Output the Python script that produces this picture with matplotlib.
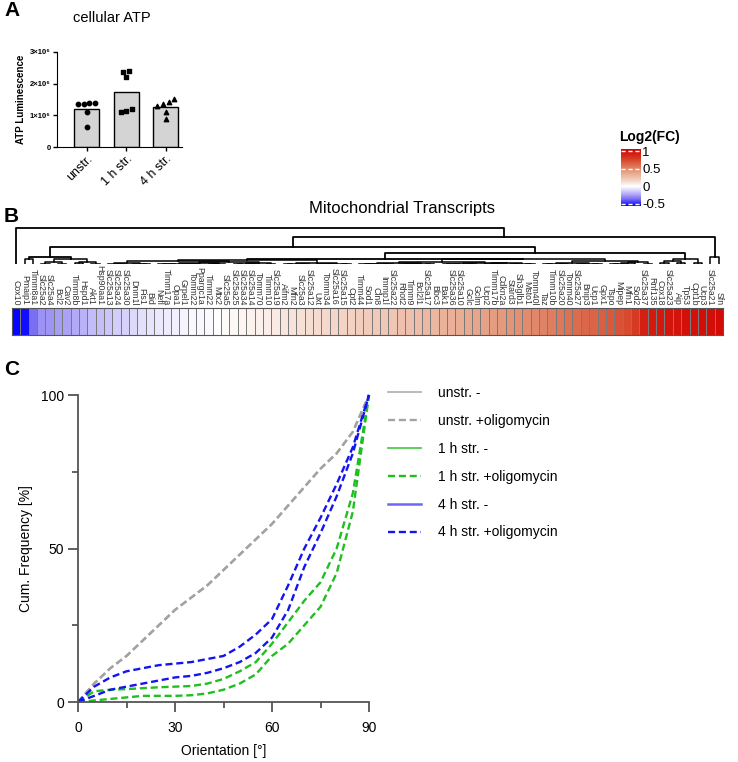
import numpy as np
import matplotlib
matplotlib.use("Agg")
import matplotlib.pyplot as plt
from matplotlib.colors import LinearSegmentedColormap, Normalize
from matplotlib.colorbar import ColorbarBase
from matplotlib.lines import Line2D

plt.rcParams['font.family'] = ['Liberation Sans', 'DejaVu Sans']

W, H = 738, 762

# --- A: cellular ATP ---
atp_groups = ['unstr.', '1 h str.', '4 h str.']
atp_unstr = [1.38e6, 1.36e6, 1.39e6, 1.37e6, 1.12e6, 0.64e6]
atp_1h = [2.40e6, 2.38e6, 2.22e6, 1.20e6, 1.12e6, 1.13e6]
atp_4h = [1.43e6, 1.37e6, 1.52e6, 1.30e6, 1.12e6, 0.87e6]
atp_ticks = [0, 1e6, 2e6, 3e6]
atp_ticklabels = ['0', '1×10⁶', '2×10⁶', '3×10⁶']

# --- B: mitochondrial transcripts (log2 fold change) ---
genes = ['Cox10', 'Pmaip1', 'Timm8a1', 'Slc25a2', 'Slc25a4', 'Bcl2', 'Cav2', 'Timm8b',
         'Hspd1', 'Akt1', 'Hsp90aa1', 'Slc25a13', 'Slc25a24', 'Slc25a30', 'Dnm1l', 'Fis1',
         'Bid', 'Nefl', 'Timm17a', 'Opa1', 'Grpel1', 'Tomm22', 'Ppargc1a', 'Timm22', 'Mtx2',
         'Slc25a5', 'Slc25a25', 'Slc25a34', 'Slc25a14', 'Tomm70', 'Timm10', 'Slc25a19',
         'Aifm2', 'Mfn2', 'Slc25a3', 'Slc25a12', 'Uxt', 'Tomm34', 'Slc25a16', 'Slc25a15',
         'Cpt2', 'Timm44', 'Sod1', 'Cln8', 'Immp1l', 'Slc25a22', 'Rhot2', 'Timm9', 'Bcl2l1',
         'Slc25a17', 'Bbc3', 'Bak1', 'Slc25a36', 'Slc25a10', 'Gclc', 'Gclm', 'Ucp2',
         'Timm17b', 'Cdkn2a', 'Stard3', 'Sh3glb1', 'Msto1', 'Tomm40l', 'Taz', 'Timm10b',
         'Slc25a20', 'Tomm40', 'Slc25a27', 'Bnip3', 'Ucp1', 'Gpx1', 'Tspo', 'Mipep', 'Mfn1',
         'Sod2', 'Slc25a37', 'Rnf135', 'Cox18', 'Slc25a23', 'Aip', 'Tp53', 'Cpt1b', 'Ucp3',
         'Slc25a21', 'Sfn']
log2fc = [-0.55, -0.53, -0.36, -0.28, -0.27, -0.25, -0.24, -0.22, -0.20, -0.18, -0.17,
          -0.15, -0.13, -0.12, -0.10, -0.08, -0.07, -0.06, -0.05, -0.04, -0.03, -0.02,
          -0.02, -0.01, 0.00, 0.01, 0.03, 0.04, 0.05, 0.06, 0.07, 0.08, 0.10, 0.11, 0.12,
          0.13, 0.14, 0.15, 0.16, 0.17, 0.18, 0.19, 0.20, 0.21, 0.22, 0.23, 0.25, 0.26,
          0.27, 0.29, 0.30, 0.32, 0.33, 0.35, 0.37, 0.38, 0.40, 0.42, 0.43, 0.45, 0.47,
          0.49, 0.50, 0.52, 0.54, 0.56, 0.58, 0.60, 0.62, 0.64, 0.66, 0.68, 0.71, 0.74,
          0.80, 0.92, 0.94, 0.95, 0.96, 0.97, 0.98, 0.99, 1.00, 1.00, 1.01]
fc_ticks = [-0.5, 0, 0.5, 1]
fc_ticklabels = ['-0.5', '0', '0.5', '1']

# upper dendrogram: ('n', height, left, right) or ('g', first, last, height)
dendro = ('n', 1.0,
          ('g', 0, 0, 0.0),
          ('n', 0.75,
           ('n', 0.47,
            ('n', 0.19, ('g', 1, 2, 0.13), ('g', 3, 10, 0.14)),
            ('n', 0.30,
             ('n', 0.15, ('g', 11, 40, 0.11), ('g', 41, 76, 0.13)),
             ('g', 77, 82, 0.15))),
           ('g', 83, 84, 0.18)))

# --- C: orientation cumulative frequency ---
orient_deg = [0, 5, 10, 15, 20, 25, 30, 35, 40, 45, 50, 55, 60, 65, 70, 75, 80, 85, 90]
cum_unstr_ctrl = [0, 6, 11, 15, 20, 25, 30, 34, 38, 43, 48, 53, 58, 64, 70, 76, 81, 88, 100]
cum_unstr_oligo = [0, 6, 11, 15, 20, 25, 30, 34, 38, 43, 48, 53, 58, 64, 70, 76, 81, 88, 100]
cum_1h_ctrl = [0, 3.5, 4, 4.2, 4.5, 4.8, 5, 5.2, 6, 7.5, 10, 13, 19, 26, 33, 39, 50, 68, 100]
cum_1h_oligo = [0, 0.5, 1, 1.5, 2, 2, 2, 2.2, 2.8, 4, 6, 9, 15, 19, 25, 31, 42, 62, 100]
cum_4h_ctrl = [0, 5, 8, 10, 11, 12, 12.5, 13, 14, 15, 18, 22, 27, 38, 50, 60, 71, 83, 100]
cum_4h_oligo = [0, 2, 4, 5, 6, 7, 8, 8.5, 9.5, 11, 13, 16, 21, 30, 44, 55, 67, 81, 100]


fig = plt.figure(figsize=(W / 100, H / 100), dpi=100)


def px_axes(l, t, r, b):
    return fig.add_axes([l / W, 1 - b / H, (r - l) / W, (b - t) / H])


def swarm(vals, step=0.14, gap=0.12e6):
    # spread near-equal values sideways
    order = np.argsort(vals)
    offs = np.zeros(len(vals))
    groups, cur = [], [order[0]]
    for i in order[1:]:
        if vals[i] - vals[cur[-1]] < gap:
            cur.append(i)
        else:
            groups.append(cur)
            cur = [i]
    groups.append(cur)
    for g in groups:
        k = len(g)
        for j, i in enumerate(g):
            offs[i] = (j - (k - 1) / 2) * step
    return offs


# ---------------- Panel A ----------------
fig.text(4 / W, 1 - 1 / H, 'A', fontsize=15, fontweight='bold', va='top')
fig.text(112 / W, 1 - 18 / H, 'cellular ATP', fontsize=10.5, ha='center', va='center')
axa = px_axes(57, 52, 182, 147)
atp_sets = [atp_unstr, atp_1h, atp_4h]
markers = ['o', 's', '^']
for i, vals in enumerate(atp_sets):
    vals = np.array(vals)
    axa.bar(i, vals.mean(), width=0.63, color='#d4d4d4', edgecolor='black', lw=1, zorder=1)
    axa.scatter(i + swarm(vals), vals, marker=markers[i], s=10, color='black', zorder=3,
                clip_on=False)
axa.set_xlim(-0.75, 2.41)
axa.set_ylim(0, 3e6)
axa.set_yticks(atp_ticks)
axa.set_yticklabels(atp_ticklabels, fontsize=5.5, fontweight='bold')
axa.set_xticks(range(3))
axa.set_xticklabels(atp_groups, rotation=45, ha='right', rotation_mode='anchor', fontsize=9)
axa.set_ylabel('ATP Luminescence', fontsize=7, fontweight='bold', labelpad=3)
for s in ['top', 'right']:
    axa.spines[s].set_visible(False)
axa.tick_params(length=3, width=1, pad=1.5)

# ---------------- colour bar ----------------
vmin, vmax = -0.56, 1.06


def pos(v):
    return (v - vmin) / (vmax - vmin)


cmap = LinearSegmentedColormap.from_list('fc', [
    (0.0, '#0000ff'), (pos(-0.36), '#7c70f2'), (pos(-0.2), '#bcb4f8'), (pos(0), '#ffffff'),
    (pos(0.2), '#f2cbbb'), (pos(0.4), '#e6a286'), (pos(0.6), '#dc6d4f'),
    (pos(0.8), '#d63a22'), (1.0, '#d20000')])
norm = Normalize(vmin=vmin, vmax=vmax)
cax = px_axes(621, 149, 641, 206)
cb = ColorbarBase(cax, cmap=cmap, norm=norm, orientation='vertical')
cb.outline.set_visible(False)
cb.set_ticks(fc_ticks)
cb.set_ticklabels(fc_ticklabels)
cax.tick_params(length=0, labelsize=9.5, pad=1)
for t in fc_ticks:
    cax.axhline(t, color='white', ls=(0, (3, 2)), lw=1)
fig.text(619 / W, 1 - 137 / H, 'Log2(FC)', fontsize=10, fontweight='bold', va='center')

# ---------------- Panel B ----------------
fig.text(4 / W, 1 - 207 / H, 'B', fontsize=15, fontweight='bold', va='top')
fig.text(402 / W, 1 - 208 / H, 'Mitochondrial Transcripts', fontsize=12, ha='center',
         va='center')
n = len(genes)
axh = px_axes(12, 308, 723, 335)
axh.pcolormesh(np.arange(n + 1), [0, 1], np.array([log2fc]), cmap=cmap, norm=norm,
               edgecolors='#7a7a7a', linewidth=0.5)
axh.set_xlim(0, n)
axh.set_ylim(0, 1)
axh.set_yticks([])
axh.xaxis.tick_top()
axh.set_xticks(np.arange(n) + 0.5)
axh.set_xticklabels(genes, rotation=-90, fontsize=6.3, color='#333333')
axh.tick_params(axis='x', length=0, pad=2)
for s in axh.spines.values():
    s.set_color('#555555')
    s.set_linewidth(0.8)

axd = px_axes(12, 226, 723, 264)
axd.set_xlim(0, n)
axd.set_ylim(0, 1.05)
axd.axis('off')


def cluster_group(first, last, top):
    # adjacency-constrained complete linkage on the fold changes of one branch
    nodes = [(i + 0.5, 0.0, i, i) for i in range(first, last + 1)]
    raw = []
    while len(nodes) > 1:
        spans = []
        for k in range(len(nodes) - 1):
            seg = log2fc[nodes[k][2]:nodes[k + 1][3] + 1]
            spans.append(max(seg) - min(seg))
        k = int(np.argmin(spans))
        a, b = nodes[k], nodes[k + 1]
        raw.append((a[0], a[1], b[0], b[1], spans[k]))
        nodes[k:k + 2] = [((a[0] + b[0]) / 2, spans[k], a[2], b[3])]
    root_h = nodes[0][1]
    sc = top / root_h if root_h > 0 else 0
    for xa, ha, xb, hb, h in raw:
        axd.plot([xa, xa, xb, xb], [ha * sc, h * sc, h * sc, hb * sc], color='black', lw=1.1)
    return nodes[0][0], root_h * sc


def draw_tree(node):
    if node[0] == 'g':
        return cluster_group(node[1], node[2], node[3])
    xl, hl = draw_tree(node[2])
    xr, hr = draw_tree(node[3])
    axd.plot([xl, xl, xr, xr], [hl, node[1], node[1], hr], color='black', lw=1.3)
    return (xl + xr) / 2, node[1]


draw_tree(dendro)

# ---------------- Panel C ----------------
fig.text(4 / W, 1 - 360 / H, 'C', fontsize=15, fontweight='bold', va='top')
axc = px_axes(78, 395, 369, 702)
gray, green, blue = '#a3a3a3', '#1fbf1f', '#1414f0'
dash = (0, (3, 1.6))
series = [(cum_unstr_ctrl, gray), (cum_unstr_oligo, gray), (cum_1h_ctrl, green),
          (cum_1h_oligo, green), (cum_4h_ctrl, blue), (cum_4h_oligo, blue)]
for ys, c in series:
    axc.plot(orient_deg, ys, color=c, ls=dash, lw=1.7, clip_on=False)
axc.set_xlim(0, 90)
axc.set_ylim(0, 100)
axc.set_xticks([0, 30, 60, 90])
axc.set_xticks([15, 45, 75], minor=True)
axc.set_yticks([0, 50, 100])
axc.set_yticks([25, 75], minor=True)
for s in ['top', 'right']:
    axc.spines[s].set_visible(False)
for s in ['left', 'bottom']:
    axc.spines[s].set_color('#555555')
    axc.spines[s].set_linewidth(1.3)
axc.tick_params(which='major', length=7, width=1.3, color='#555555', labelsize=10, pad=3)
axc.tick_params(axis='x', which='major', pad=7)
axc.tick_params(which='minor', length=4.5, width=1.3, color='#555555')
axc.set_xlabel('Orientation [°]', fontsize=10, labelpad=6)
axc.set_ylabel('Cum. Frequency [%]', fontsize=10, labelpad=6)

handles = [Line2D([], [], color='#b4b4b4', lw=1.3),
           Line2D([], [], color=gray, lw=1.7, ls=dash),
           Line2D([], [], color='#4ccc4c', lw=1.3),
           Line2D([], [], color=green, lw=1.7, ls=dash),
           Line2D([], [], color='#6a6af0', lw=1.8),
           Line2D([], [], color=blue, lw=1.7, ls=dash)]
labels = ['unstr. -', 'unstr. +oligomycin', '1 h str. -', '1 h str. +oligomycin',
          '4 h str. -', '4 h str. +oligomycin']
fig.legend(handles, labels, loc='upper left', bbox_to_anchor=(388 / W, 1 - 386 / H),
           frameon=False, fontsize=10, handlelength=2.4, handletextpad=1.2,
           labelspacing=1.0, borderpad=0, borderaxespad=0)

fig.savefig('out.png', dpi=100)
